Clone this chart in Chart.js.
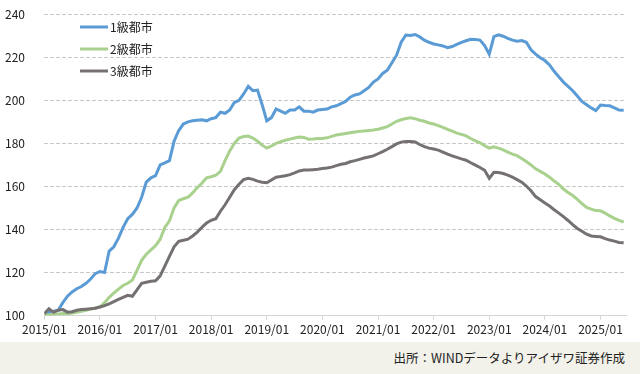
<!DOCTYPE html>
<html lang="ja">
<head>
<meta charset="utf-8">
<script src="https://cdn.jsdelivr.net/npm/chart.js@4.4.1/dist/chart.umd.min.js"></script>
<style>
  html, body { margin: 0; padding: 0; background: #fff; }
  #wrap { position: relative; width: 640px; height: 342px; }
  #footer {
    width: 640px; height: 32px; background: #f3f2ea;
    font-family: "Noto Sans CJK JP", sans-serif; font-size: 12.5px; color: #222;
    text-align: right; line-height: 32px; box-sizing: border-box; padding-right: 15px;
  }
</style>
</head>
<body>
<div id="wrap"><canvas id="chart" width="640" height="342"></canvas></div>
<div id="footer">出所：WINDデータよりアイザワ証券作成</div>
<script>
// monthly index, 2015/01 = 100
const startYear = 2015;
const seriesNames = ['1級都市', '2級都市', '3級都市'];
const seriesColors = ['#5b9bd5', '#a9d18e', '#767171'];
const yTicks = [100, 120, 140, 160, 180, 200, 220, 240];

const tier1 = [
    101, 101.5, 102, 102.5, 106, 109, 111, 112.5, 113.5, 115, 117, 119.5,
    120.5, 120, 130, 132, 136, 141, 145, 147, 150, 155, 162, 164,
    165, 170, 171, 172, 181, 186, 189, 190, 190.5, 190.8, 191, 190.5,
    191.5, 192, 194.5, 194, 195.5, 199, 200, 203, 206.5, 204.5, 204.8, 198,
    190.5, 192, 196, 195, 194, 195.5, 195.5, 197, 195, 195, 194.5, 195.5,
    195.8, 196, 197, 197.5, 198.5, 199.5, 201.5, 202.5, 203, 204.5, 206, 208.5,
    210, 212.5, 214, 217.5, 221, 227, 230.4, 230.2, 230.6, 229.5, 228, 227,
    226.2, 225.8, 225.3, 224.5, 225, 226, 227, 227.7, 228.4, 228.3, 228, 225.5,
    221.5, 229.6, 230.5, 229.8, 228.8, 228, 227.5, 227.8, 227, 223.5, 221.5, 219.8,
    218.5, 216.5, 213.5, 211, 208.5, 206.5, 204.5, 202, 199.5, 198, 196.5, 195.3,
    197.8, 197.6, 197.5, 196.5, 195.5, 195.4
];
const tier2 = [
    100.5, 100.3, 100.5, 100.8, 101, 100.9, 101.2, 101.5, 102, 102.5, 103, 103.5,
    104, 106, 108.5, 110.5, 112.3, 114, 115, 116.5, 121, 125.7, 128.5, 130.5,
    132.5, 135.5, 141, 144, 150, 153.5, 154.3, 155, 157, 159.5, 161.5, 164,
    164.5, 165.2, 167, 172, 176.5, 180, 182.5, 183.2, 183.4, 182.5, 181, 179.2,
    177.8, 178.8, 180, 180.8, 181.5, 182, 182.5, 183, 182.8, 182, 182.1, 182.3,
    182.3, 182.6, 183.3, 183.9, 184.3, 184.6, 185, 185.3, 185.6, 185.8, 186, 186.2,
    186.6, 187.2, 187.8, 189, 190.3, 191, 191.6, 191.9, 191.5, 190.8, 190.3, 189.5,
    189, 188.3, 187.5, 186.5, 185.7, 184.8, 184.2, 183.5, 182.3, 181.2, 180.3, 179,
    177.8, 178.4, 177.8, 177, 176, 175, 174.3, 173, 171.6, 170, 168.2, 167,
    165.8, 164.3, 162.5, 161, 158.8, 157.2, 155.8, 154, 152, 150.3, 149.5, 148.8,
    148.7, 147.6, 146.3, 145.2, 144.2, 143.5
];
const tier3 = [
    100.9, 103.2, 101.5, 102.5, 102.8, 101.6, 101.8, 102.5, 102.8, 103, 103.2, 103.4,
    104, 104.6, 105.5, 106.5, 107.5, 108.5, 109.4, 109, 112, 115, 115.5, 116,
    116.2, 118.5, 123, 127.5, 132, 134.5, 135, 135.5, 137, 138.8, 141, 143,
    144.3, 145, 148.5, 151.5, 155, 158.5, 161, 163.2, 163.8, 163.3, 162.5, 162,
    161.7, 163, 164.3, 164.6, 165, 165.5, 166.3, 167.2, 167.6, 167.6, 167.8, 168,
    168.3, 168.6, 169, 169.7, 170.3, 170.7, 171.5, 172, 172.6, 173.2, 173.7, 174.2,
    175.2, 176.2, 177.3, 178.5, 179.8, 180.6, 180.9, 180.9, 180.7, 179.5, 178.5, 177.8,
    177.4, 176.9, 176, 175, 174.2, 173.5, 172.8, 172.2, 171, 169.9, 168.8, 167.5,
    163.8, 166.6, 166.5, 166, 165.3, 164.3, 163.2, 162, 160.2, 158, 155.3, 153.8,
    152.3, 150.9, 149.2, 147.6, 146, 144.2, 142.3, 140.5, 139.2, 137.8, 137, 136.8,
    136.6, 135.8, 135.1, 134.6, 134, 133.8
];

const allSeries = [tier1, tier2, tier3];
const monthLabel = m => `${startYear + Math.floor(m / 12)}/${String(m % 12 + 1).padStart(2, '0')}`;

const fontFamily = '"Noto Sans CJK JP", "Noto Sans", sans-serif';
const gridColor = '#c8c8c8';

// legend drawn inside the plot, top-left
const insideLegend = {
    id: 'insideLegend',
    afterDraw(chart) {
        const ctx = chart.ctx;
        ctx.save();
        chart.data.datasets.forEach((ds, i) => {
            const y = 27 + i * 22;
            ctx.strokeStyle = ds.borderColor;
            ctx.lineWidth = 3;
            ctx.beginPath();
            ctx.moveTo(80, y);
            ctx.lineTo(108, y);
            ctx.stroke();
            ctx.fillStyle = '#222';
            ctx.font = '12px ' + fontFamily;
            ctx.textBaseline = 'middle';
            ctx.textAlign = 'left';
            ctx.fillText(ds.label, 110, y);
        });
        ctx.restore();
    }
};

new Chart(document.getElementById('chart'), {
    type: 'line',
    data: {
        datasets: allSeries.map((vals, i) => ({
            label: seriesNames[i],
            data: vals.map((v, m) => ({ x: m, y: v })),
            borderColor: seriesColors[i],
            borderWidth: 3,
            pointRadius: 0,
            tension: 0,
            fill: false,
            order: allSeries.length - i
        }))
    },
    options: {
        responsive: false,
        animation: false,
        layout: { padding: { top: 14.3, right: 14, bottom: 2, left: 5 } },
        plugins: {
            legend: { display: false },
            tooltip: { enabled: false }
        },
        scales: {
            x: {
                type: 'linear',
                min: 0,
                max: 125.5,
                grid: { drawOnChartArea: false, drawTicks: true, tickLength: 4, color: '#d4d4d4' },
                border: { display: true, color: '#d4d4d4', width: 1 },
                ticks: {
                    stepSize: 12,
                    includeBounds: false,
                    maxRotation: 0,
                    autoSkip: false,
                    padding: 3,
                    color: '#222',
                    font: { family: fontFamily, size: 12 },
                    callback: v => monthLabel(v)
                }
            },
            y: {
                min: yTicks[0],
                max: yTicks[yTicks.length - 1],
                afterBuildTicks: s => { s.ticks = yTicks.map(v => ({ value: v })); },
                afterFit: s => { s.width = 39.3; },
                grid: { display: true, drawOnChartArea: true, color: gridColor, lineWidth: 1, drawTicks: false },
                border: { display: false, dash: [4, 2] },
                ticks: {
                    padding: 0,
                    crossAlign: 'far',
                    color: '#222',
                    font: { family: fontFamily, size: 12 }
                }
            }
        }
    },
    plugins: [insideLegend]
});
</script>
</body>
</html>
